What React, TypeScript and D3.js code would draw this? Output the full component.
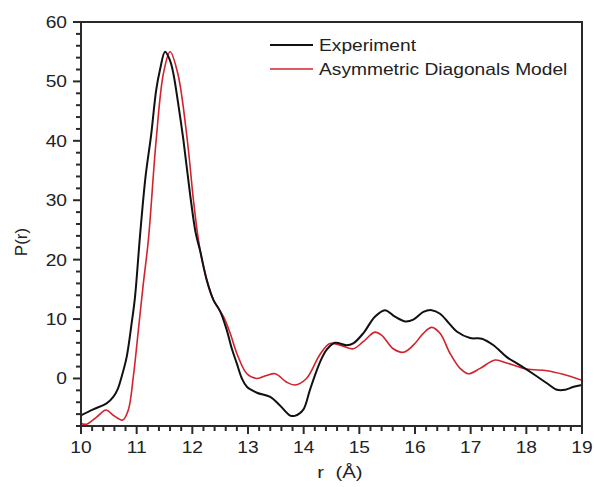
import React from "react";
import * as d3 from "d3";

// Pair distance distribution P(r) — experiment vs. asymmetric diagonals model
const expR = [10.0, 10.22, 10.46, 10.58, 10.66, 10.73, 10.82, 10.91, 10.97, 11.06, 11.16, 11.26, 11.35, 11.42, 11.51, 11.6, 11.66, 11.75, 11.84, 11.96, 12.06, 12.14, 12.26, 12.38, 12.5, 12.62, 12.71, 12.8, 12.89, 12.98, 13.16, 13.4, 13.57, 13.75, 13.84, 13.99, 14.11, 14.22, 14.32, 14.41, 14.56, 14.77, 14.89, 15.07, 15.28, 15.46, 15.64, 15.82, 15.97, 16.15, 16.3, 16.45, 16.6, 16.75, 16.99, 17.2, 17.41, 17.65, 17.89, 18.12, 18.37, 18.55, 18.7, 18.85, 19.0];
const expP = [-6.2, -5.2, -4.2, -3.1, -1.8, 0.3, 3.6, 9.3, 13.7, 24, 34, 41, 48.5, 52, 55.0, 53.5, 51.3, 46, 40.1, 31, 24.5, 21.5, 16.5, 13.2, 11.3, 8.1, 5, 2.5, 0, -1.4, -2.4, -3.1, -4.5, -6.2, -6.3, -5.3, -2.0, 1.0, 3.3, 4.8, 6.0, 5.6, 5.9, 7.6, 10.4, 11.5, 10.4, 9.6, 9.9, 11.2, 11.5, 10.9, 9.4, 7.9, 6.8, 6.7, 5.6, 3.6, 2.2, 0.8, -0.8, -1.9, -1.9, -1.4, -1.1];

const modelR = [10.0, 10.1, 10.28, 10.45, 10.58, 10.75, 10.85, 10.94, 11.03, 11.12, 11.21, 11.35, 11.48, 11.6, 11.74, 11.91, 12.02, 12.11, 12.2, 12.38, 12.56, 12.68, 12.8, 12.98, 13.16, 13.33, 13.49, 13.69, 13.84, 14.05, 14.29, 14.47, 14.65, 14.89, 15.07, 15.28, 15.4, 15.61, 15.79, 15.97, 16.15, 16.3, 16.45, 16.63, 16.81, 16.96, 17.17, 17.44, 17.65, 18.0, 18.37, 18.66, 19.0];
const modelP = [-7.6, -7.7, -6.5, -5.3, -6.2, -7.0, -5.3, 0.3, 8.1, 16, 23.3, 40.1, 51.3, 55.0, 51.3, 40.1, 30, 23.3, 18.8, 13.2, 10.4, 7.6, 4.2, 0.8, 0, 0.5, 0.8, -0.6, -1.1, 0, 4.0, 5.9, 5.6, 5.0, 6.2, 7.8, 7.3, 5.0, 4.4, 5.6, 7.6, 8.6, 7.6, 4.2, 1.7, 0.8, 1.7, 3.1, 2.6, 1.6, 1.3, 0.7, -0.3];

const xTicks = [10, 11, 12, 13, 14, 15, 16, 17, 18, 19];
const yTicks = [0, 10, 20, 30, 40, 50, 60];
const seriesNames = ["Experiment", "Asymmetric Diagonals Model"];
const seriesColors = ["#111111", "#d3222c"];

const W = 594;
const H = 487;
const left = 81;
const right = 582;
const top = 22;
const bottom = 426;

const FONT = "'Liberation Sans', Arial, sans-serif";
const SX = 1.2;

function Label({ x, y, anchor = "start", size = 16, children }: any) {
  return (
    <text
      transform={`translate(${x},${y}) scale(${SX},1)`}
      textAnchor={anchor}
      fontSize={size}
      fontFamily={FONT}
      fill="#222"
    >
      {children}
    </text>
  );
}

export default function App() {
  const x = d3.scaleLinear().domain([10, 19]).range([left, right]);
  const y = d3.scaleLinear().domain([-8, 60]).range([bottom, top]);

  const line = d3
    .line<[number, number]>()
    .x((d) => x(d[0]))
    .y((d) => y(d[1]))
    .curve(d3.curveCatmullRom.alpha(0.5));

  const expPath = line(expR.map((r, i) => [r, expP[i]]) as [number, number][]) || "";
  const modelPath = line(modelR.map((r, i) => [r, modelP[i]]) as [number, number][]) || "";

  const xMinor = d3.range(10, 19.0001, 0.2).filter((v) => Math.abs(v - Math.round(v)) > 1e-6);
  const yMinor = d3.range(-8, 60.0001, 2).filter((v) => Math.abs(v / 10 - Math.round(v / 10)) > 1e-6);

  const axisColor = "#2a2a2a";

  return (
    <svg
      width={W}
      height={H}
      style={{ position: "absolute", left: 0, top: 0, background: "#fff" }}
    >
      <rect x={0} y={0} width={W} height={H} fill="#fff" />

      <defs>
        <clipPath id="plot-clip">
          <rect x={left} y={top} width={right - left} height={bottom - top} />
        </clipPath>
      </defs>

      {/* data curves */}
      <g clipPath="url(#plot-clip)">
        <path d={modelPath} fill="none" stroke={seriesColors[1]} strokeWidth={1.6} />
        <path d={expPath} fill="none" stroke={seriesColors[0]} strokeWidth={2} />
      </g>

      {/* frame */}
      <path
        d={`M${left},${bottom}V${top}H${right}V${bottom}Z`}
        fill="none"
        stroke={axisColor}
        strokeWidth={2}
      />

      {/* x ticks */}
      {xTicks.map((t) => (
        <line key={"xt" + t} x1={x(t)} x2={x(t)} y1={bottom} y2={bottom + 8} stroke={axisColor} strokeWidth={2} />
      ))}
      {xMinor.map((t) => (
        <line key={"xm" + t.toFixed(1)} x1={x(t)} x2={x(t)} y1={bottom} y2={bottom + 5} stroke={axisColor} strokeWidth={2} />
      ))}
      {xTicks.map((t) => (
        <Label key={"xl" + t} x={x(t)} y={453} anchor="middle">
          {t}
        </Label>
      ))}

      {/* y ticks */}
      {yTicks.map((t) => (
        <line key={"yt" + t} x1={left - 8} x2={left} y1={y(t)} y2={y(t)} stroke={axisColor} strokeWidth={2} />
      ))}
      {yMinor.map((t) => (
        <line key={"ym" + t} x1={left - 5} x2={left} y1={y(t)} y2={y(t)} stroke={axisColor} strokeWidth={2} />
      ))}
      {yTicks.map((t) => (
        <Label key={"yl" + t} x={67} y={y(t) + 6} anchor="end">
          {t}
        </Label>
      ))}

      {/* axis titles */}
      <text
        transform={`translate(27,242) rotate(-90)`}
        textAnchor="middle"
        fontSize={17}
        fontFamily={FONT}
        fill="#222"
      >
        P(r)
      </text>
      <Label x={340} y={478} anchor="middle" size={17}>
        {"r\u00a0\u00a0(Å)"}
      </Label>

      {/* legend */}
      {seriesNames.map((name, i) => (
        <g key={name}>
          <line
            x1={270}
            x2={313}
            y1={45 + i * 24}
            y2={45 + i * 24}
            stroke={seriesColors[i]}
            strokeWidth={i === 0 ? 2 : 1.6}
          />
          <Label x={319} y={51 + i * 24}>
            {name}
          </Label>
        </g>
      ))}
    </svg>
  );
}
